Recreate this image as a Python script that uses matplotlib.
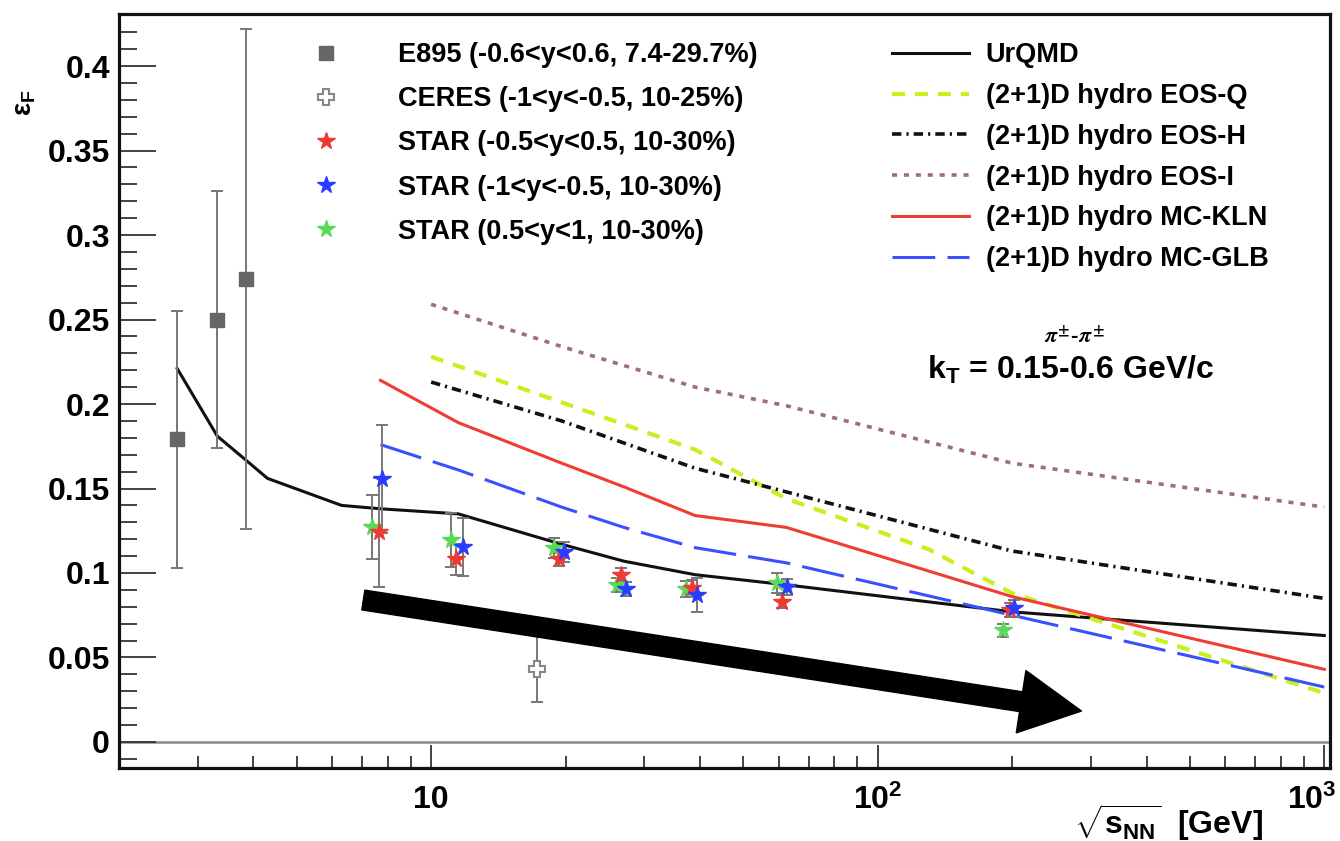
import matplotlib
matplotlib.use('Agg')
import matplotlib.pyplot as plt
import matplotlib.transforms as mtransforms
from matplotlib.ticker import FixedLocator, FixedFormatter, NullFormatter

# ---------------- data ----------------
e895_x = [2.7, 3.32, 3.84]
e895_y = [0.179, 0.250, 0.274]
e895_err = [0.076, 0.076, 0.148]

ceres_x = [17.3]
ceres_y = [0.043]
ceres_err = [0.0195]

star_mid_x = [7.65, 11.37, 19.3, 26.6, 38.3, 61.2, 198]
star_mid_y = [0.124, 0.108, 0.108, 0.099, 0.091, 0.083, 0.078]
star_mid_err = [0.032, 0.009, 0.004, 0.004, 0.005, 0.004, 0.004]

star_bwd_x = [7.77, 11.79, 19.8, 27.3, 39.3, 62.5, 202]
star_bwd_y = [0.1556, 0.1154, 0.1124, 0.0905, 0.087, 0.0917, 0.079]
star_bwd_err = [0.032, 0.017, 0.006, 0.004, 0.010, 0.005, 0.005]

star_fwd_x = [7.38, 11.08, 18.8, 26.1, 37.2, 59.4, 191]
star_fwd_y = [0.127, 0.1195, 0.1148, 0.0929, 0.0905, 0.094, 0.066]
star_fwd_err = [0.019, 0.016, 0.006, 0.004, 0.005, 0.006, 0.004]

urqmd_x = [2.7, 3.32, 3.84, 4.3, 6.3, 7.7, 11.5, 19.6, 27, 39, 62.4, 200, 1000]
urqmd_y = [0.221, 0.181, 0.167, 0.156, 0.140, 0.138, 0.135, 0.117, 0.107, 0.099, 0.093, 0.077, 0.063]

hydro_x = [10, 19.6, 39, 62.4, 200, 1000]
eosq_x = [10, 19.6, 39, 62.4, 130, 200, 1000]
eosq_y = [0.228, 0.201, 0.173, 0.144, 0.114, 0.088, 0.029]
eosh_y = [0.213, 0.190, 0.162, 0.148, 0.113, 0.085]
eosi_y = [0.259, 0.234, 0.210, 0.199, 0.165, 0.139]

mc_x = [7.7, 11.5, 19.6, 27, 39, 62.4, 200, 1000]
mckln_y = [0.214, 0.189, 0.165, 0.151, 0.134, 0.127, 0.086, 0.043]
mcglb_y = [0.176, 0.161, 0.139, 0.127, 0.115, 0.106, 0.075, 0.0325]

arrow_start = (7.05, 0.084)
arrow_end = (286, 0.0183)

xtick_vals = [10, 100, 1000]
xtick_labels = ['10', r'$\mathbf{10^{2}}$', r'$\mathbf{10^{3}}$']
ytick_vals = [0, 0.05, 0.1, 0.15, 0.2, 0.25, 0.3, 0.35, 0.4]
ytick_labels = ['0', '0.05', '0.1', '0.15', '0.2', '0.25', '0.3', '0.35', '0.4']

# ---------------- style ----------------
plt.rcParams['font.family'] = ['Liberation Sans', 'DejaVu Sans']
plt.rcParams['font.weight'] = 'bold'
plt.rcParams['mathtext.fontset'] = 'custom'
plt.rcParams['mathtext.rm'] = 'Liberation Sans:bold'
plt.rcParams['mathtext.bf'] = 'Liberation Sans:bold'
plt.rcParams['mathtext.it'] = 'Liberation Sans:bold'
plt.rcParams['mathtext.sf'] = 'Liberation Sans:bold'

fig = plt.figure(figsize=(13.4, 8.41), dpi=100)
ax = fig.add_axes([119/1340, 73/841, 1211/1340, 754/841])
ax.set_xscale('log')
ax.set_xlim(2.0, 1030)
ax.set_ylim(-0.0154, 0.4308)

for s in ax.spines.values():
    s.set_linewidth(2.3)
    s.set_color('#111111')

ax.axhline(0, color='#888888', lw=1.8, zorder=1)

# model curves
ax.plot(urqmd_x, urqmd_y, color='#111111', lw=2.2, label='UrQMD', zorder=3)
ax.plot(eosq_x, eosq_y, color='#c8f01e', lw=3.0, ls=(0, (3.1, 2.4)),
        label='(2+1)D hydro EOS-Q', zorder=3)
ax.plot(hydro_x, eosh_y, color='#111111', lw=2.6, ls=(0, (2.6, 1.4, 0.6, 1.4)),
        label='(2+1)D hydro EOS-H', zorder=3)
ax.plot(hydro_x, eosi_y, color='#9c6f7a', lw=2.6, ls=(0, (1.4, 1.9)),
        label='(2+1)D hydro EOS-I', zorder=3)
ax.plot(mc_x, mckln_y, color='#f03c32', lw=2.2, label='(2+1)D hydro MC-KLN', zorder=3)
ax.plot(mc_x, mcglb_y, color='#3a50ff', lw=2.2, ls=(0, (14, 4)),
        label='(2+1)D hydro MC-GLB', zorder=3)

# error bars
ekw = dict(fmt='none', ecolor='#777777', elinewidth=1.4, capsize=4, capthick=1.4, zorder=4)
ax.errorbar(e895_x, e895_y, yerr=e895_err, **ekw)
ax.errorbar(ceres_x, ceres_y, yerr=ceres_err, **ekw)
ax.errorbar(star_mid_x, star_mid_y, yerr=star_mid_err, **ekw)
ax.errorbar(star_bwd_x, star_bwd_y, yerr=star_bwd_err, **ekw)
ax.errorbar(star_fwd_x, star_fwd_y, yerr=star_fwd_err, **ekw)

# markers
pts = []
pts.append(ax.plot(e895_x, e895_y, ls='none', marker='s', ms=10, color='#666666',
                   label='E895 (-0.6<y<0.6, 7.4-29.7%)', zorder=5)[0])
pts.append(ax.plot(ceres_x, ceres_y, ls='none', marker='P', ms=11, mfc='white', mec='#888888',
                   mew=1.5, label='CERES (-1<y<-0.5, 10-25%)', zorder=5)[0])
pts.append(ax.plot(star_mid_x, star_mid_y, ls='none', marker='*', ms=13, color='#ee3a32',
                   label='STAR (-0.5<y<0.5, 10-30%)', zorder=6)[0])
pts.append(ax.plot(star_bwd_x, star_bwd_y, ls='none', marker='*', ms=13, color='#2a3cff',
                   label='STAR (-1<y<-0.5, 10-30%)', zorder=6)[0])
pts.append(ax.plot(star_fwd_x, star_fwd_y, ls='none', marker='*', ms=13, color='#5ad85a',
                   label='STAR (0.5<y<1, 10-30%)', zorder=5.5)[0])

# arrow
ax.annotate('', xy=arrow_end, xytext=arrow_start,
            arrowprops=dict(arrowstyle='simple,head_length=2.2,head_width=2.27,tail_width=0.72',
                            mutation_scale=20, color='black', shrinkA=0, shrinkB=0),
            zorder=7)

# ticks
ax.yaxis.set_major_locator(FixedLocator(ytick_vals))
ax.yaxis.set_major_formatter(FixedFormatter(ytick_labels))
ax.yaxis.set_minor_locator(FixedLocator([i * 0.01 for i in range(-1, 44)]))
ax.xaxis.set_major_locator(FixedLocator(xtick_vals))
ax.xaxis.set_major_formatter(FixedFormatter(xtick_labels))
minors = [m * d for d in (1, 10, 100) for m in range(2, 10)]
ax.xaxis.set_minor_locator(FixedLocator(minors))
ax.xaxis.set_minor_formatter(NullFormatter())
ax.tick_params(axis='y', which='major', direction='in', length=26.5, width=1.3,
               color='#333333', labelsize=23, pad=6.5, right=False)
ax.tick_params(axis='y', which='minor', direction='in', length=13, width=1.3,
               color='#333333', right=False)
ax.tick_params(axis='x', which='major', direction='in', length=16.5, width=1.3,
               color='#333333', labelsize=23, pad=12, top=False)
ax.tick_params(axis='x', which='minor', direction='in', length=8.6, width=1.3,
               color='#333333', top=False)

# nudge the last x tick label so it stays inside the canvas
fig.canvas.draw()
last_lbl = ax.get_xticklabels()[-1]
last_lbl.set_transform(last_lbl.get_transform() +
                       mtransforms.ScaledTranslation(-13/100, 0, fig.dpi_scale_trans))

# legends
h_lines = ax.get_lines()
line_handles = [l for l in h_lines if l.get_label() in (
    'UrQMD', '(2+1)D hydro EOS-Q', '(2+1)D hydro EOS-H', '(2+1)D hydro EOS-I',
    '(2+1)D hydro MC-KLN', '(2+1)D hydro MC-GLB')]
leg1 = ax.legend(handles=pts, loc='upper left', bbox_to_anchor=(0.153, 0.9627),
                 frameon=False, fontsize=19.5, handlelength=1.6, handletextpad=1.87,
                 labelspacing=0.67, borderpad=0, borderaxespad=0)
ax.add_artist(leg1)
ax.legend(handles=line_handles, loc='upper left', bbox_to_anchor=(0.638, 0.9624),
          frameon=False, fontsize=19.5, handlelength=2.84, handletextpad=0.63,
          labelspacing=0.545, borderpad=0, borderaxespad=0)

# annotations
ax.text(0.789, 0.571, r'$\pi^{\pm}$-$\pi^{\pm}$', transform=ax.transAxes, ha='center',
        va='center', fontsize=16, math_fontfamily='stix')
ax.text(0.786, 0.528, r'k$_{\mathbf{T}}$ = 0.15-0.6 GeV/c', transform=ax.transAxes,
        ha='center', va='center', fontsize=23)

fig.text(1263/1340, 1 - 823/841, r'$\sqrt{\mathbf{s}_{\mathbf{NN}}}$  [GeV]', ha='right',
         va='center', fontsize=23)
fig.text(25/1340, 1 - 103/841, r'$\mathrm{\varepsilon_{F}}$', rotation=90, ha='center',
         va='center', fontsize=20)

fig.savefig('out.png', dpi=100)
